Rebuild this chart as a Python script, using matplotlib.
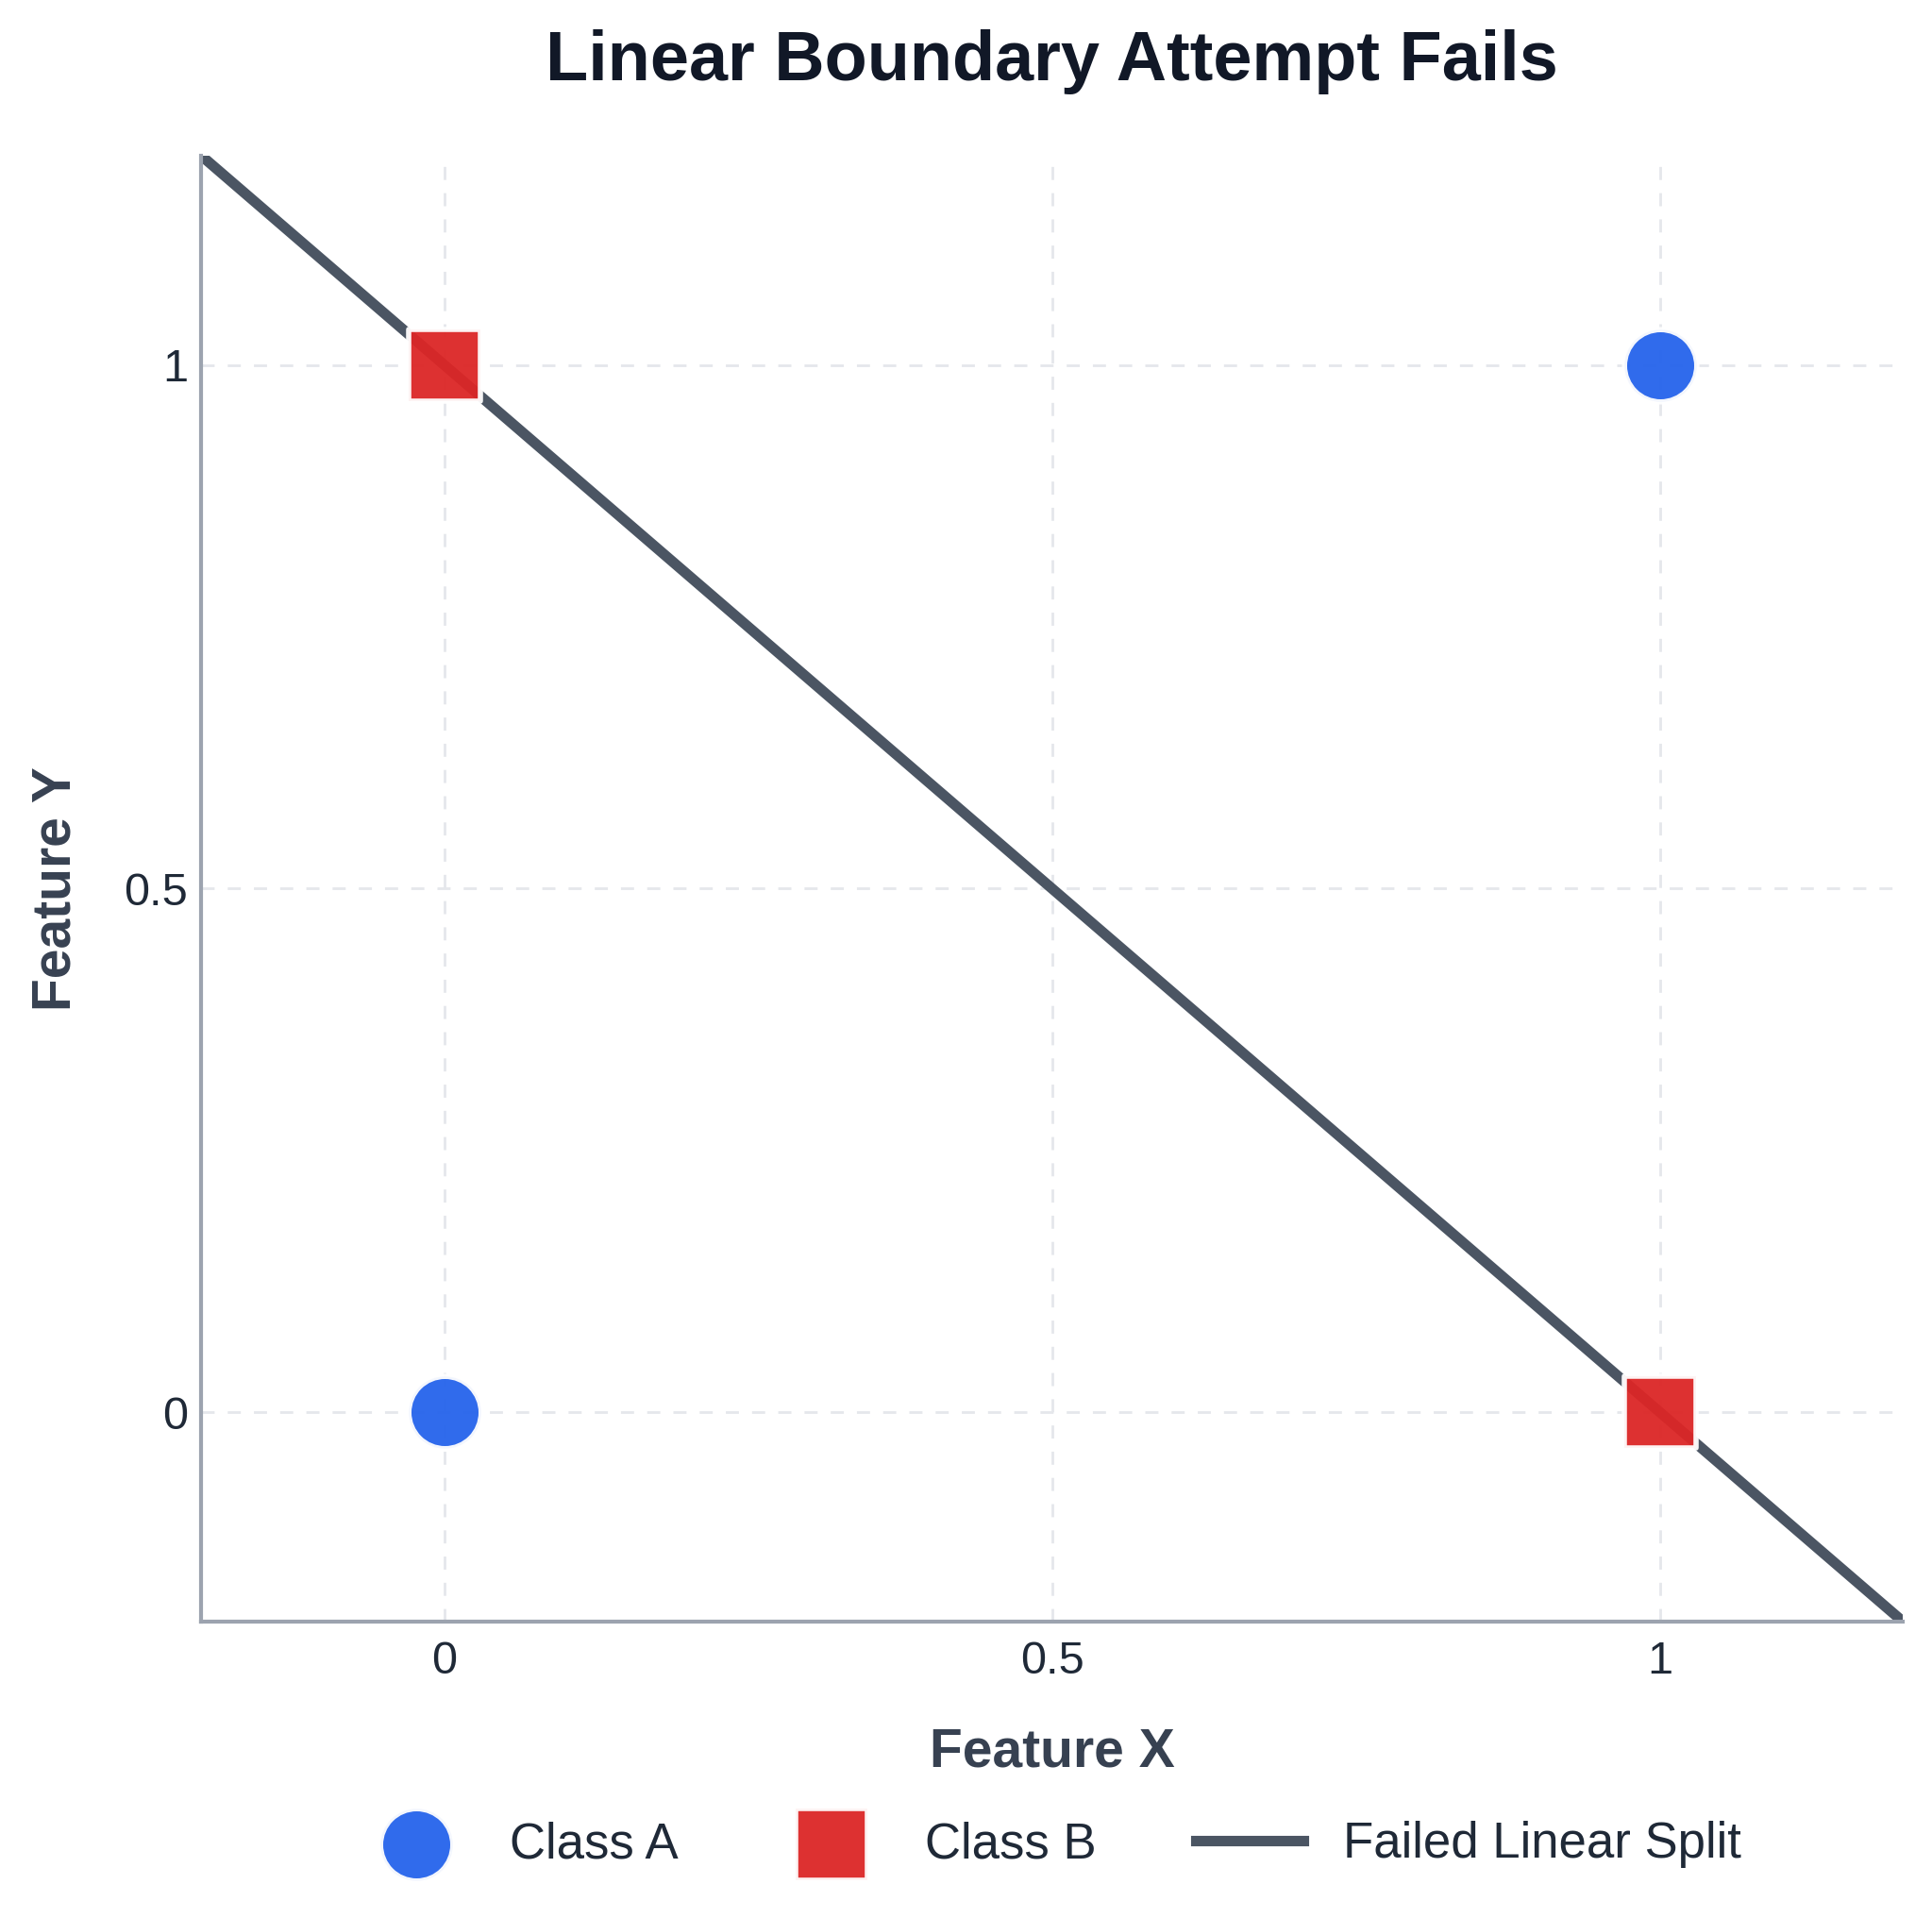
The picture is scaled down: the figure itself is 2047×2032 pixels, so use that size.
import matplotlib
matplotlib.use("Agg")
import matplotlib.pyplot as plt
import numpy as np

plt.rcParams['font.family'] = ['Liberation Sans', 'DejaVu Sans']

class_a_x = [0, 1]
class_a_y = [0, 1]
class_b_x = [0, 1]
class_b_y = [1, 0]
line_x = [-0.2, 1.2]
line_y = [1.2, -0.2]
ticks = [0, 0.5, 1]
tick_labels = ["0", "0.5", "1"]

fig = plt.figure(figsize=(2047/200, 2032/200), dpi=200)
ax = fig.add_axes([0.104, 0.1545, 0.881, 0.7645])

ax.plot(line_x, line_y, color='#4b5563', lw=4.0, zorder=2, label='Failed Linear Split')
ax.scatter(class_a_x, class_a_y, s=760, marker='o', color='#2563eb', edgecolor='white',
           linewidth=2, alpha=0.95, zorder=3, label='Class A')
ax.scatter(class_b_x, class_b_y, s=760, marker='s', color='#dc2626', edgecolor='white',
           linewidth=2, alpha=0.95, zorder=3, label='Class B')

ax.set_xlim(-0.2, 1.2)
ax.set_ylim(-0.2, 1.2)
ax.set_xticks(ticks)
ax.set_xticklabels(tick_labels)
ax.set_yticks(ticks)
ax.set_yticklabels(tick_labels)
ax.tick_params(axis='x', length=0, labelsize=17.5, labelcolor='#1f2937', pad=7)
ax.tick_params(axis='y', length=0, labelsize=17.5, labelcolor='#1f2937', pad=5)
ax.grid(True, linestyle='--', color='#e5e7eb', linewidth=1.0, dashes=(5, 5))
ax.set_axisbelow(True)
for s in ['top', 'right']:
    ax.spines[s].set_visible(False)
for s in ['left', 'bottom']:
    ax.spines[s].set_color('#9ca3af')
    ax.spines[s].set_linewidth(1.5)

fig.text(0.5445, 0.968, 'Linear Boundary Attempt Fails', fontsize=26.6, fontweight='bold',
         color='#111827', ha='center', va='center')
ax.set_xlabel('Feature X', fontsize=20.5, fontweight='bold', color='#374151', labelpad=17)
ax.set_ylabel('Feature Y', fontsize=20.5, fontweight='bold', color='#374151', labelpad=16)

handles, labels = ax.get_legend_handles_labels()
order = [1, 2, 0]
ax.legend([handles[i] for i in order], [labels[i] for i in order], loc='center',
          bbox_to_anchor=(0.5, -0.152), ncol=3, frameon=False, fontsize=19,
          columnspacing=2.0, handlelength=2.15, handletextpad=0.8, labelcolor='#1f2937')

fig.savefig('out.png', dpi=200)
